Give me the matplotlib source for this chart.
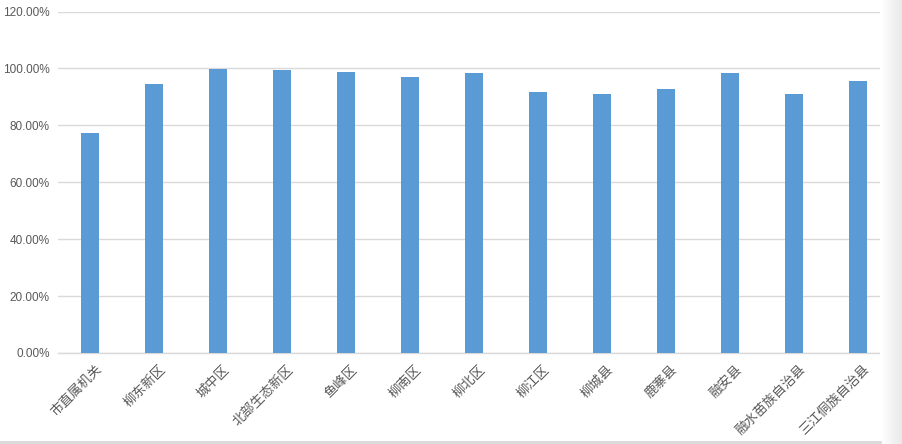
import numpy as np
import matplotlib.pyplot as plt
from matplotlib.ticker import PercentFormatter

plt.rcParams['font.family'] = ['Noto Sans CJK SC', 'DejaVu Sans']

# 各区县数据
categories = ['市直属机关', '柳东新区', '城中区', '北部生态新区', '鱼峰区', '柳南区', '柳北区',
              '柳江区', '柳城县', '鹿寨县', '融安县', '融水苗族自治县', '三江侗族自治县']
values = [77.3, 94.5, 99.8, 99.4, 98.7, 97.0, 98.4, 91.7, 91.0, 92.8, 98.4, 91.0, 95.6]
yticks = [0, 20, 40, 60, 80, 100, 120]

fig = plt.figure(figsize=(9.03, 4.44), dpi=100)
ax = fig.add_axes([0.0642, 0.205, 0.9214, 0.769])

x = np.arange(len(categories))
ax.bar(x, values, width=0.28, color='#5b9bd5', zorder=3)

ax.set_xlim(-0.5, len(categories) - 0.5)
ax.set_ylim(0, 120)
ax.set_yticks(yticks)
ax.yaxis.set_major_formatter(PercentFormatter(decimals=2))
ax.grid(axis='y', color='#d9d9d9', linewidth=1, zorder=0)

for s in ['top', 'right', 'left']:
    ax.spines[s].set_visible(False)
ax.spines['bottom'].set_color('#d9d9d9')
ax.spines['bottom'].set_linewidth(1)

ax.tick_params(axis='both', length=0, colors='#595959')
ax.tick_params(axis='y', labelsize=8.5, pad=6)
ax.tick_params(axis='x', pad=7)
ax.set_xticks(x + 0.08)
ax.set_xticklabels(categories, rotation=45, ha='right', rotation_mode='anchor',
                   fontsize=9.5, color='#595959')
for lbl in ax.get_yticklabels():
    lbl.set_family('Liberation Sans')

# 右侧阴影和底部边线
shade = fig.add_axes([0.975, 0, 0.025, 1])
shade.imshow(np.linspace(1, 0.91, 50).reshape(1, -1), cmap='gray', vmin=0, vmax=1,
             aspect='auto', extent=[0, 1, 0, 1])
shade.axis('off')
fig.add_artist(plt.Line2D([0, 0.975], [0.004, 0.004], color='#d9d9d9', linewidth=2))

fig.savefig('out.png', dpi=100)
